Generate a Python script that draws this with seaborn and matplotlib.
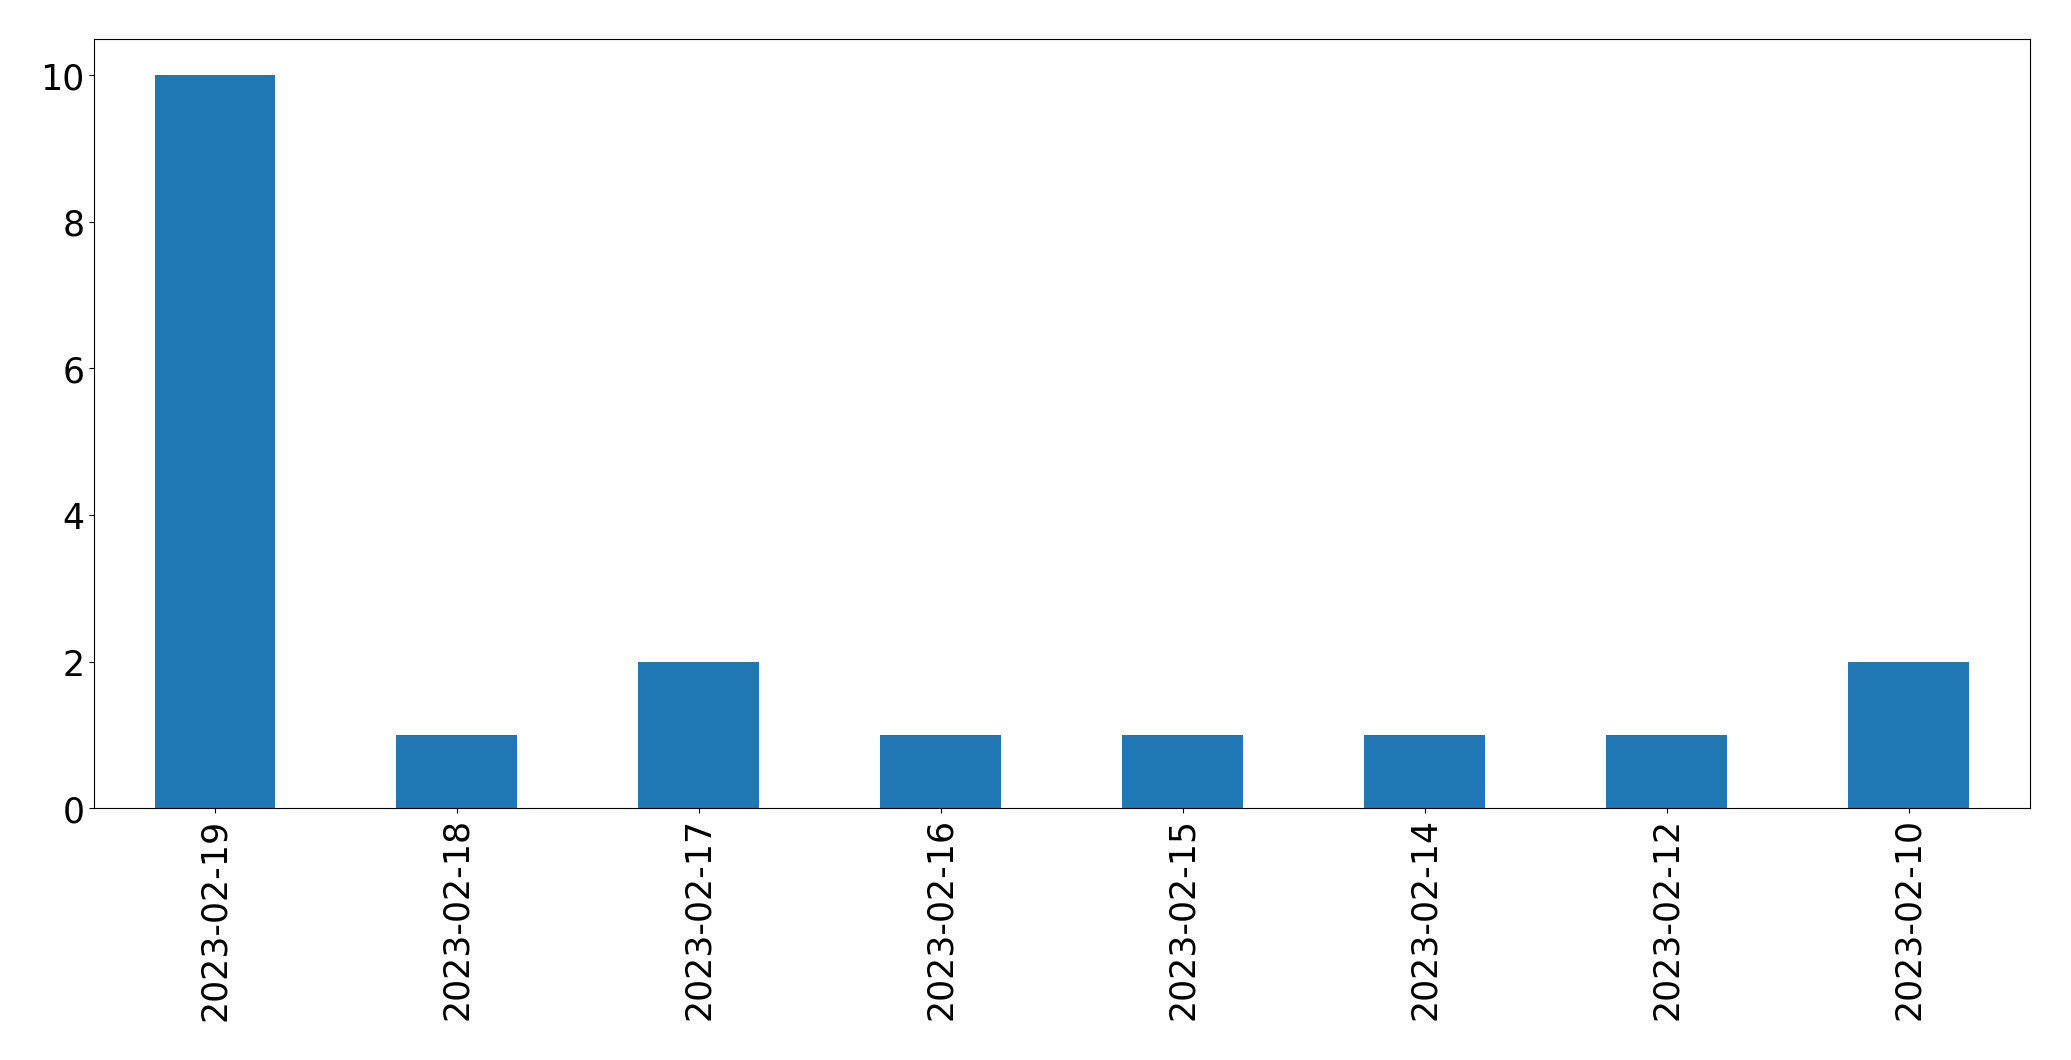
import pandas as pd
import matplotlib
matplotlib.use("Agg")
import matplotlib.pyplot as plt
import seaborn as sns

# Data
dates = ['2023-02-19', '2023-02-18', '2023-02-17', '2023-02-16',
         '2023-02-15', '2023-02-14', '2023-02-12', '2023-02-10']
counts = [10, 1, 2, 1, 1, 1, 1, 2]

df = pd.DataFrame({'date': dates, 'count': counts})

fig, ax = plt.subplots(figsize=(20.71, 10.605), dpi=100)
sns.barplot(data=df, x='date', y='count', order=dates, color='#1f77b4',
            saturation=1, width=0.5, linewidth=0, ax=ax)

ax.set_xlim(-0.5, len(dates) - 0.5)
ax.set_ylim(0, 10.5)
ax.set_xlabel('')
ax.set_ylabel('')
ax.tick_params(axis='both', labelsize=25)
plt.setp(ax.get_xticklabels(), rotation=90)

plt.subplots_adjust(left=0.0454, right=0.980, top=0.963, bottom=0.2375)
plt.savefig('out.png', dpi=100)
